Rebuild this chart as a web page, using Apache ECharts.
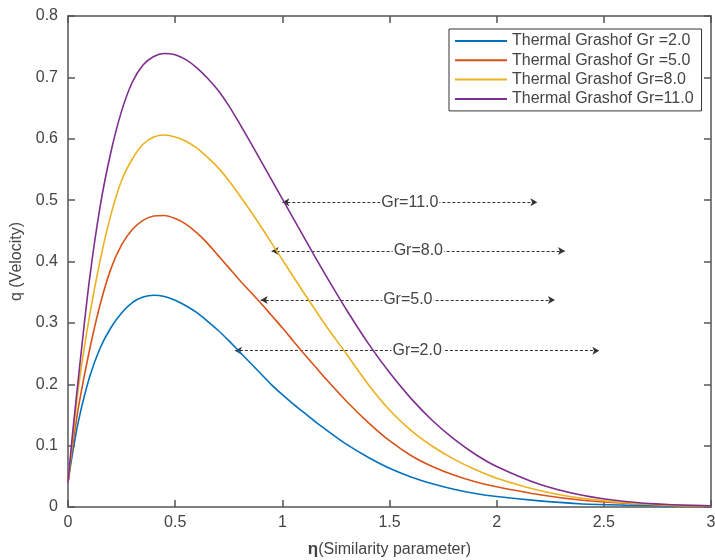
<!DOCTYPE html>
<html>
<head>
<meta charset="utf-8">
<script src="https://cdn.jsdelivr.net/npm/echarts@6/dist/echarts.min.js"></script>
<style>
  html, body { margin: 0; padding: 0; background: #fff; }
  #chart { width: 715px; height: 560px; }
</style>
</head>
<body>
<div id="chart"></div>
<script>
// Similarity variable η
const eta = [0, 0.02,
             0.05, 0.1, 0.15, 0.2, 0.25, 0.3, 0.35, 0.4, 0.45, 0.5, 0.55, 0.6,
             0.65, 0.7, 0.75, 0.8, 0.85, 0.9, 0.95, 1.0, 1.05, 1.1, 1.15, 1.2,
             1.3, 1.4, 1.5, 1.6, 1.7, 1.8, 1.9, 2.0,
             2.2, 2.4, 2.6, 2.8, 3.0];

// Velocity profiles q(η) for each thermal Grashof number
const qGr2  = [0.04, 0.085,
               0.142, 0.211, 0.259, 0.292, 0.316, 0.333, 0.342, 0.345, 0.343, 0.337, 0.328, 0.317,
               0.303, 0.288, 0.271, 0.253, 0.235, 0.217, 0.199, 0.183, 0.168, 0.154, 0.140, 0.127,
               0.102, 0.081, 0.063, 0.049, 0.038, 0.029, 0.022, 0.017,
               0.010, 0.005, 0.003, 0.002, 0.001];
const qGr5  = [0.04, 0.095,
               0.165, 0.255, 0.330, 0.388, 0.427, 0.452, 0.467, 0.474, 0.475, 0.470, 0.461, 0.447,
               0.430, 0.410, 0.390, 0.370, 0.351, 0.332, 0.312, 0.292, 0.271, 0.250, 0.230, 0.210,
               0.172, 0.138, 0.108, 0.084, 0.066, 0.052, 0.041, 0.033,
               0.020, 0.011, 0.006, 0.003, 0.002];
const qGr8  = [0.04, 0.105,
               0.198, 0.310, 0.402, 0.476, 0.532, 0.567, 0.591, 0.603, 0.606, 0.603, 0.596, 0.585,
               0.570, 0.553, 0.532, 0.508, 0.483, 0.457, 0.430, 0.403, 0.376, 0.349, 0.323, 0.297,
               0.249, 0.200, 0.158, 0.125, 0.099, 0.078, 0.061, 0.047,
               0.027, 0.014, 0.007, 0.003, 0.002];
const qGr11 = [0.04, 0.115,
               0.215, 0.370, 0.490, 0.578, 0.645, 0.692, 0.720, 0.734, 0.739, 0.737, 0.729, 0.716,
               0.699, 0.679, 0.654, 0.625, 0.595, 0.564, 0.533, 0.502, 0.471, 0.440, 0.409, 0.379,
               0.321, 0.267, 0.219, 0.177, 0.141, 0.111, 0.086, 0.066,
               0.037, 0.019, 0.009, 0.004, 0.002];

const seriesNames = ['Thermal Grashof Gr =2.0', 'Thermal Grashof Gr =5.0', 'Thermal Grashof Gr=8.0', 'Thermal Grashof Gr=11.0'];
const seriesColors = ['#0072BD', '#D95319', '#EDB120', '#7E2F8E'];
const seriesValues = [qGr2, qGr5, qGr8, qGr11];

// Double-headed annotation arrows: label, q level, η start, η end
const annoText  = ['Gr=2.0', 'Gr=5.0', 'Gr=8.0', 'Gr=11.0'];
const annoQ     = [0.2546, 0.3373, 0.4171, 0.4966];
const annoStart = [0.779, 0.899, 0.950, 1.000];
const annoEnd   = [2.479, 2.272, 2.319, 2.190];

const FONT = "'Liberation Sans', Arial, sans-serif";
const AXIS_COLOR = '#555';
const TEXT_COLOR = '#444';

const series = seriesValues.map((vals, i) => ({
  name: seriesNames[i],
  type: 'line',
  xAxisIndex: 0,
  yAxisIndex: 0,
  data: eta.map((x, j) => [x, vals[j]]),
  smooth: 0.3,
  showSymbol: false,
  symbol: 'none',
  lineStyle: { width: 1.6, color: seriesColors[i] },
  itemStyle: { color: seriesColors[i] },
  z: 3,
  markLine: {
    silent: true,
    symbol: ['arrow', 'arrow'],
    symbolSize: [6, 7],
    lineStyle: { color: '#333', width: 1, type: [3, 2] },
    label: {
      show: true,
      position: 'insideMiddle',
      formatter: annoText[i],
      color: TEXT_COLOR,
      fontFamily: FONT,
      fontSize: 16,
      backgroundColor: '#fff',
      padding: [0, 1],
      distance: 0
    },
    emphasis: { disabled: true },
    data: [[{ coord: [annoStart[i], annoQ[i]] }, { coord: [annoEnd[i], annoQ[i]] }]],
    z: 2
  }
}));

const chart = echarts.init(document.getElementById('chart'), null, { renderer: 'canvas' });
chart.setOption({
  animation: false,
  backgroundColor: '#fff',
  textStyle: { fontFamily: FONT },
  grid: { left: 68, right: 4, top: 16, bottom: 53, containLabel: false, outerBoundsMode: 'none' },
  legend: {
    data: seriesNames,
    orient: 'vertical',
    left: 449,
    top: 29,
    icon: 'rect',
    itemWidth: 52,
    itemHeight: 2,
    itemGap: 3.3,
    padding: [4, 8, 4, 6],
    backgroundColor: '#fff',
    borderColor: '#333',
    borderWidth: 1,
    textStyle: { color: TEXT_COLOR, fontSize: 16, fontFamily: FONT, lineHeight: 16 },
    selectedMode: false
  },
  xAxis: [{
    type: 'value',
    min: 0, max: 3, interval: 0.5,
    position: 'bottom',
    name: '{b|η}(Similarity parameter)',
    nameLocation: 'middle',
    nameGap: 34,
    nameTextStyle: {
      color: TEXT_COLOR, fontSize: 16, fontFamily: FONT,
      rich: { b: { fontWeight: 'bold', fontSize: 17, color: TEXT_COLOR, fontFamily: FONT } }
    },
    axisLine: { show: true, onZero: false, lineStyle: { color: AXIS_COLOR, width: 1.5 } },
    axisTick: { show: true, inside: true, length: 7, lineStyle: { color: AXIS_COLOR, width: 1.5 } },
    axisLabel: { color: TEXT_COLOR, fontSize: 16, fontFamily: FONT, margin: 8 },
    splitLine: { show: false }
  }, {
    type: 'value',
    min: 0, max: 3, interval: 0.5,
    position: 'top',
    axisLine: { show: true, onZero: false, lineStyle: { color: AXIS_COLOR, width: 1.5 } },
    axisTick: { show: true, inside: true, length: 7, lineStyle: { color: AXIS_COLOR, width: 1.5 } },
    axisLabel: { show: false },
    splitLine: { show: false }
  }],
  yAxis: [{
    type: 'value',
    min: 0, max: 0.8, interval: 0.1,
    position: 'left',
    name: 'q (Velocity)',
    nameLocation: 'middle',
    nameGap: 33,
    nameTextStyle: { color: TEXT_COLOR, fontSize: 16, fontFamily: FONT },
    axisLine: { show: true, onZero: false, lineStyle: { color: AXIS_COLOR, width: 1.5 } },
    axisTick: { show: true, inside: true, length: 7, lineStyle: { color: AXIS_COLOR, width: 1.5 } },
    axisLabel: { color: TEXT_COLOR, fontSize: 16, fontFamily: FONT, margin: 10 },
    splitLine: { show: false }
  }, {
    type: 'value',
    min: 0, max: 0.8, interval: 0.1,
    position: 'right',
    axisLine: { show: true, onZero: false, lineStyle: { color: AXIS_COLOR, width: 1.5 } },
    axisTick: { show: true, inside: true, length: 7, lineStyle: { color: AXIS_COLOR, width: 1.5 } },
    axisLabel: { show: false },
    splitLine: { show: false }
  }],
  series: series
});
</script>
</body>
</html>
